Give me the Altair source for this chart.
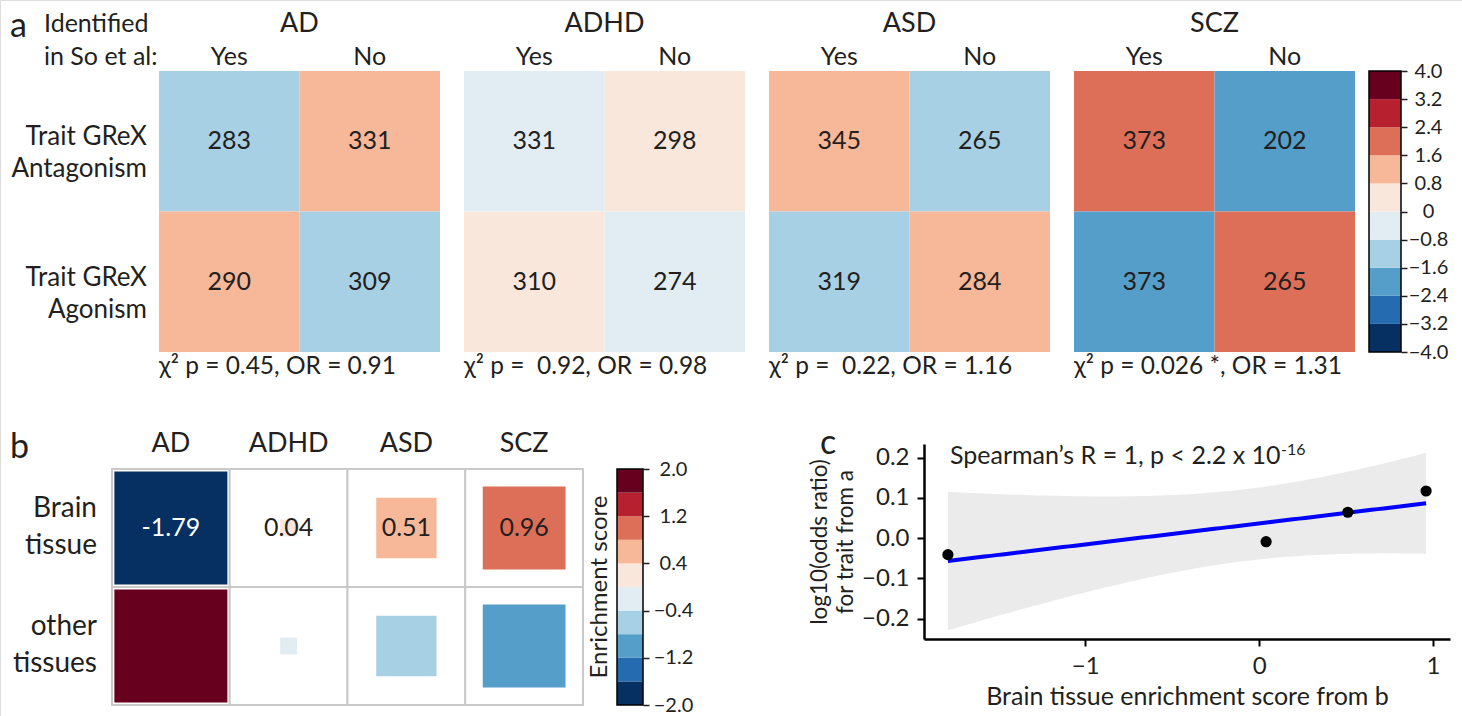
import numpy as np
import pandas as pd
import altair as alt

FONT = "Lato"
INK = "#231f20"
W, H = 1462, 716

# ---------------- data ----------------
traits = ["AD", "ADHD", "ASD", "SCZ"]
identified = ["Yes", "No"]
grex_keys = ["Antagonism", "Agonism"]
grex_labels = ["Trait GReX\nAntagonism", "Trait GReX\nAgonism"]

# cell order: (Antagonism, Yes), (Antagonism, No), (Agonism, Yes), (Agonism, No)
gene_counts = {
    "AD": [283, 331, 290, 309],
    "ADHD": [331, 298, 310, 274],
    "ASD": [345, 265, 319, 284],
    "SCZ": [373, 202, 373, 265],
}
cell_scores = {
    "AD": [-1.2, 1.2, 1.2, -1.2],
    "ADHD": [-0.4, 0.4, 0.4, -0.4],
    "ASD": [1.1, -1.1, -1.1, 1.1],
    "SCZ": [2.0, -2.0, -2.0, 2.0],
}
chi_p_text = ["0.45", "\u00a00.92", "\u00a00.22", "0.026 *"]
odds_ratio = [0.91, 0.98, 1.16, 1.31]

a_breaks = [-4.0, -3.2, -2.4, -1.6, -0.8, 0.0, 0.8, 1.6, 2.4, 3.2, 4.0]
b_breaks = [-2.0, -1.6, -1.2, -0.8, -0.4, 0.0, 0.4, 0.8, 1.2, 1.6, 2.0]
b_ticks = [-2.0, -1.2, -0.4, 0.4, 1.2, 2.0]
palette = ["#053061", "#256baf", "#549ec9", "#a7d0e4", "#e2edf3",
           "#fae7dc", "#f7b799", "#dd6f59", "#b6202f", "#67001f"]

tissue_keys = ["Brain tissue", "other tissues"]
tissue_labels = ["Brain\ntissue", "other\ntissues"]
brain_enrich = [-1.79, 0.04, 0.51, 0.96]
other_enrich = [1.79, -0.04, -0.51, -0.96]

# ---------------- tables ----------------
rows = []
for t in traits:
    k = 0
    for g in grex_keys:
        for ident in identified:
            rows.append(dict(trait=t, grex=g, ident=ident,
                             count=gene_counts[t][k], score=cell_scores[t][k]))
            k += 1
df_cells = pd.DataFrame(rows)
df_rowlab = pd.DataFrame({"grex": grex_keys, "label": grex_labels})
df_traits = pd.DataFrame({
    "trait": traits,
    "chi": [f"\u03c7\u00b2 p = {p}, OR = {o:.2f}" for p, o in zip(chi_p_text, odds_ratio)],
})

df_b = pd.DataFrame({
    "trait": traits * 2,
    "tissue": [tissue_keys[0]] * 4 + [tissue_keys[1]] * 4,
    "score": brain_enrich + other_enrich,
})
b_max = float(np.abs(df_b["score"]).max())

# linear fit with 95% confidence band (as geom_smooth(method = "lm"))
xb = np.array(brain_enrich)
yl = np.log10(np.array(odds_ratio))
n = len(xb)
slope, intercept = np.polyfit(xb, yl, 1)
resid = yl - (slope * xb + intercept)
s_err = np.sqrt((resid ** 2).sum() / (n - 2))
t_crit = 4.302653  # Student t, 97.5% quantile, 2 degrees of freedom
xg = np.linspace(xb.min(), xb.max(), 80)
se = s_err * np.sqrt(1 / n + (xg - xb.mean()) ** 2 / ((xb - xb.mean()) ** 2).sum())
fit = slope * xg + intercept
df_fit = pd.DataFrame({"x": xg, "fit": fit, "lo": fit - t_crit * se, "hi": fit + t_crit * se})
df_pts = pd.DataFrame({"trait": traits, "x": xb, "y": yl})

xspan = xb.max() - xb.min()
c_xdom = [xb.min() - 0.05 * xspan, xb.max() + 0.05 * xspan]
ylo, yhi = min(df_fit.lo.min(), yl.min()), max(df_fit.hi.max(), yl.max())
c_ydom = [ylo - 0.05 * (yhi - ylo), yhi + 0.05 * (yhi - ylo)]


def label(text, x, y, size, **kw):
    return alt.Chart(pd.DataFrame({"t": [text]})).mark_text(
        font=FONT, fontSize=size, color=INK, **kw
    ).encode(x=alt.value(x), y=alt.value(y), text="t:N")


def colorbar(breaks, ticks, x_range, y_range, label_pad, expr):
    df = pd.DataFrame({"lo": breaks[:-1], "hi": breaks[1:]})
    df["mid"] = (df["lo"] + df["hi"]) / 2
    ys = alt.Y("lo:Q", scale=alt.Scale(domain=[breaks[0], breaks[-1]], range=y_range,
                                       nice=False, zero=False),
               axis=alt.Axis(orient="right", offset=x_range[1] - W, values=ticks,
                             domain=False, grid=False, tickSize=6, tickColor=INK,
                             tickWidth=1.5, labelAlign="center", labelPadding=label_pad,
                             labelFont=FONT, labelFontSize=20, labelColor=INK,
                             labelExpr=expr, title=None))
    xs = alt.XDatum(0, scale=alt.Scale(domain=[0, 1], range=x_range), axis=None)
    x2 = alt.X2Datum(1)
    bins = alt.Chart(df).mark_rect().encode(
        x=xs, x2=x2, y=ys, y2="hi:Q",
        color=alt.Color("mid:Q", scale=alt.Scale(type="threshold", domain=breaks[1:-1],
                                                 range=palette), legend=None))
    frame = alt.Chart(pd.DataFrame({"lo": [breaks[0]], "hi": [breaks[-1]]})).mark_rect(
        fillOpacity=0, stroke="black", strokeWidth=1.5
    ).encode(x=xs, x2=x2, y=ys, y2="hi:Q")
    return alt.layer(bins, frame)


layers = []

# ---------------- panel a ----------------
A_LEFT = [159, 464, 769, 1074]
A_SIZE = 281
A_TOP = 71
a_color = alt.Scale(type="threshold", domain=a_breaks[1:-1], range=palette)

for t, left in zip(traits, A_LEFT):
    xs = alt.X("ident:N", scale=alt.Scale(domain=identified, range=[left, left + A_SIZE],
                                          paddingInner=0, paddingOuter=0), axis=None)
    ys = alt.Y("grex:N", scale=alt.Scale(domain=grex_keys, range=[A_TOP, A_TOP + A_SIZE],
                                         paddingInner=0, paddingOuter=0), axis=None)
    sub = alt.Chart(df_cells).transform_filter(alt.datum.trait == t)
    rect = sub.mark_rect().encode(x=xs, y=ys,
                                  color=alt.Color("score:Q", scale=a_color, legend=None))
    nums = sub.mark_text(font=FONT, fontSize=25, color=INK).encode(x=xs, y=ys, text="count:Q")
    heads = alt.Chart(pd.DataFrame({"ident": identified})).mark_text(
        font=FONT, fontSize=25, color=INK).encode(x=xs, y=alt.value(57), text="ident:N")
    tr = alt.Chart(df_traits).transform_filter(alt.datum.trait == t)
    ttl = tr.mark_text(font=FONT, fontSize=27, color=INK).encode(
        x=alt.value(left + A_SIZE / 2), y=alt.value(24), text="trait:N")
    chi = tr.mark_text(font=FONT, fontSize=24.5, color=INK, align="left").encode(
        x=alt.value(left), y=alt.value(367), text="chi:N")
    parts = [rect, nums, heads, ttl, chi]
    if t == traits[0]:
        parts.append(alt.Chart(df_rowlab).mark_text(
            font=FONT, fontSize=26, color=INK, align="right", lineBreak="\n",
            lineHeight=32, dy=-4).encode(x=alt.value(147), y=ys, text="label:N"))
    layers.append(alt.layer(*parts))

layers.append(colorbar(a_breaks, a_breaks, [1369, 1401], [352, 71], 21,
                       "datum.value == 0 ? '0' : replace(format(datum.value, '.1f'), '-', '\u2212')"))
layers.append(label("a", 10, 37, 34, align="left", baseline="alphabetic"))
layers.append(label("Identified\nin So et al:", 44, 24, 25, align="left",
                    baseline="middle", lineBreak="\n", lineHeight=33))

# ---------------- panel b ----------------
xs_b = alt.X("trait:N", scale=alt.Scale(domain=traits, range=[112, 583],
                                        paddingInner=0, paddingOuter=0), axis=None)
ys_b = alt.Y("tissue:N", scale=alt.Scale(domain=tissue_keys, range=[469, 705],
                                         paddingInner=0, paddingOuter=0), axis=None)
b_color = alt.Scale(type="threshold", domain=b_breaks[1:-1], range=palette)

grid = alt.Chart(df_b).mark_rect(fill="white", stroke="#c9c9c9", strokeWidth=2).encode(
    x=xs_b, y=ys_b)
squares = alt.Chart(df_b).transform_calculate(mag="abs(datum.score)").mark_square(
    opacity=1).encode(
    x=xs_b, y=ys_b,
    size=alt.Size("mag:Q", scale=alt.Scale(domain=[0, b_max], range=[0, 113 ** 2]), legend=None),
    color=alt.Color("score:Q", scale=b_color, legend=None))
vals = alt.Chart(df_b).transform_filter(alt.datum.tissue == tissue_keys[0]).transform_calculate(
    txt="replace(format(datum.score, '.2f'), '\u2212', '-')"
).mark_text(font=FONT, fontSize=25).encode(
    x=xs_b, y=ys_b, text="txt:N",
    color=alt.condition("datum.score < -1.2", alt.value("white"), alt.value(INK)))
heads_b = alt.Chart(pd.DataFrame({"trait": traits})).mark_text(
    font=FONT, fontSize=27, color=INK).encode(x=xs_b, y=alt.value(444), text="trait:N")
rowlab_b = alt.Chart(pd.DataFrame({"tissue": tissue_keys, "label": tissue_labels})).mark_text(
    font=FONT, fontSize=28, color=INK, align="right", lineBreak="\n", lineHeight=37,
    dy=-19).encode(x=alt.value(97), y=ys_b, text="label:N")
layers.append(alt.layer(grid, squares, vals, heads_b, rowlab_b))

layers.append(colorbar(b_breaks, b_ticks, [617, 643], [705, 469], 24,
                       "replace(format(datum.value, '.1f'), '-', '\u2212')"))
layers.append(label("b", 10, 458, 34, align="left", baseline="alphabetic"))
layers.append(label("Enrichment score", 600, 587, 24, angle=270, baseline="middle"))

# ---------------- panel c ----------------
axis_common = dict(domainColor="black", domainWidth=2.5, tickColor="black", tickWidth=2,
                   tickSize=7, labelFont=FONT, labelFontSize=24, labelColor=INK,
                   labelPadding=8, titleFont=FONT, titleColor=INK,
                   titleFontWeight="normal", grid=False)
xc = alt.X("x:Q", scale=alt.Scale(domain=c_xdom, range=[924, 1450], nice=False, zero=False),
           axis=alt.Axis(orient="bottom", offset=639 - H, values=[-1, 0, 1],
                         labelExpr="replace(format(datum.value, 'd'), '-', '\u2212')",
                         title="Brain tissue enrichment score from b", titlePadding=6,
                         titleFontSize=25, **axis_common))
y_axis = alt.Axis(orient="left", offset=-924, values=[-0.2, -0.1, 0.0, 0.1, 0.2],
                  labelExpr="replace(format(datum.value, '.1f'), '-', '\u2212')",
                  title=["log10(odds ratio)", "for trait from a"], titlePadding=4,
                  titleFontSize=22.5, titleLineHeight=26, **axis_common)
c_yscale = alt.Scale(domain=c_ydom, range=[639, 444], nice=False, zero=False)

band = alt.Chart(df_fit).mark_area(color="#ebebeb").encode(
    x=xc, y=alt.Y("lo:Q", scale=c_yscale, axis=y_axis), y2="hi:Q")
line = alt.Chart(df_fit).mark_line(color="#0000ff", strokeWidth=4).encode(
    x=xc, y=alt.Y("fit:Q", scale=c_yscale, axis=y_axis))
pts = alt.Chart(df_pts).mark_circle(color="black", opacity=1, size=125).encode(
    x=xc, y=alt.Y("y:Q", scale=c_yscale, axis=y_axis))
layers.append(alt.layer(band, line, pts))

layers.append(label("c", 820, 454, 34, align="left", baseline="alphabetic"))
layers.append(label("Spearman\u2019s R = 1, p < 2.2 x 10", 950, 456, 25, align="left",
                    baseline="middle"))
layers.append(label("-16", 1281, 450, 16, align="left", baseline="middle"))

chart = alt.layer(*layers).resolve_scale(
    x="independent", y="independent", color="independent", size="independent"
).resolve_axis(x="independent", y="independent").resolve_legend(
    color="independent", size="independent"
).properties(
    width=W, height=H, padding=0, autosize=alt.AutoSizeParams(type="none")
).configure_view(stroke=None).configure(background="white")

chart.save("out.html", embed_options={"renderer": "svg", "actions": False})
